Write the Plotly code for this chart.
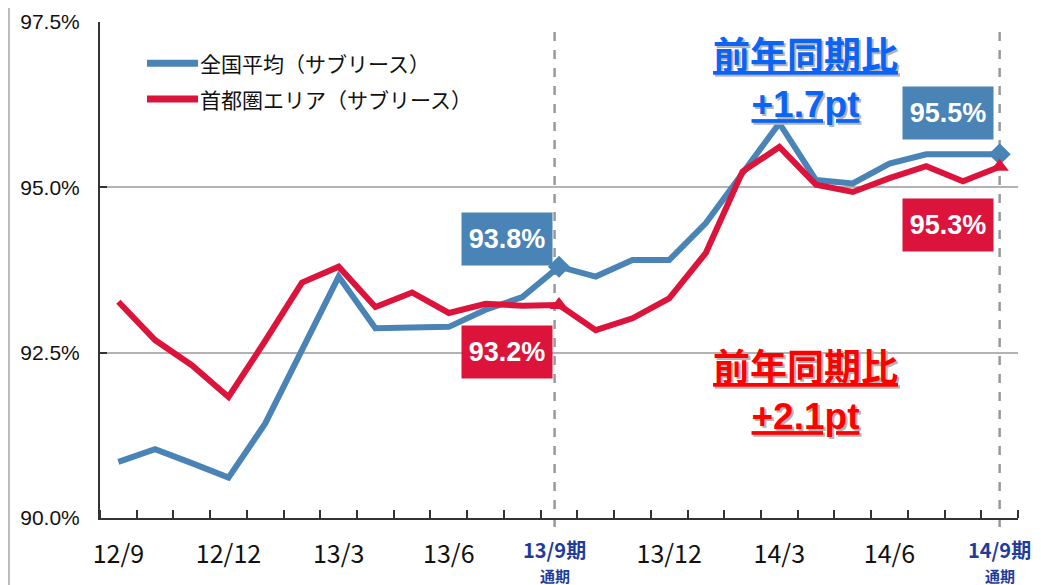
import plotly.graph_objects as go

# ---------------- data ----------------
months = ["12/9", "12/10", "12/11", "12/12", "13/1", "13/2", "13/3", "13/4", "13/5",
          "13/6", "13/7", "13/8", "13/9", "13/10", "13/11", "13/12", "14/1", "14/2",
          "14/3", "14/4", "14/5", "14/6", "14/7", "14/8", "14/9"]
national = [90.85, 91.04, 90.83, 90.61, 91.43, 92.54, 93.65, 92.87, 92.89, 92.89,
            93.15, 93.34, 93.80, 93.65, 93.90, 93.90, 94.46, 95.22, 95.97, 95.11,
            95.06, 95.36, 95.50, 95.50, 95.50]
capital = [93.27, 92.69, 92.31, 91.83, 92.68, 93.56, 93.80, 93.19, 93.41, 93.10,
           93.24, 93.21, 93.22, 92.84, 93.02, 93.32, 94.01, 95.24, 95.61, 95.04,
           94.93, 95.14, 95.32, 95.09, 95.31]
series_names = ["全国平均（サブリース）", "首都圏エリア（サブリース）"]
tick_months = ["12/9", "12/12", "13/3", "13/6", "13/9", "13/12", "14/3", "14/6", "14/9"]
period_ends = ["13/9", "14/9"]
period_suffix = "期"
period_note = "通期"
y_ticks = [90.0, 92.5, 95.0, 97.5]
yoy_label = "前年同期比"
yoy_national = "+1.7pt"
yoy_capital = "+2.1pt"

BLUE = "#4a83b5"
RED = "#dc143c"
TICK_BLUE = "#1f3c9c"

x = list(range(len(months)))
end_idx = [months.index(p) for p in period_ends]
dash_nudge = [-0.12, 0.0]   # small horizontal nudge of the period divider lines (style)

fig = go.Figure()
fig.add_trace(go.Scatter(x=x, y=national, mode="lines", name=series_names[0],
                         line=dict(color=BLUE, width=6), showlegend=False, hoverinfo="skip"))
fig.add_trace(go.Scatter(x=x, y=capital, mode="lines", name=series_names[1],
                         line=dict(color=RED, width=6), showlegend=False, hoverinfo="skip"))
fig.add_trace(go.Scatter(x=end_idx, y=[national[i] for i in end_idx], mode="markers",
                         marker=dict(symbol="diamond", size=17, color=BLUE, opacity=1,
                                     line=dict(width=0)),
                         showlegend=False, hoverinfo="skip"))
fig.add_trace(go.Scatter(x=end_idx, y=[capital[i] for i in end_idx], mode="markers",
                         marker=dict(symbol="triangle-up", size=16, color=RED, opacity=1,
                                     line=dict(width=0)),
                         showlegend=False, hoverinfo="skip"))

# tick labels (period-end labels are drawn as two-line annotations below)
ticktext = ["" if m in period_ends else m for m in tick_months]

shapes = []
annotations = []
for m, i, dn in zip(period_ends, end_idx, dash_nudge):
    shapes.append(dict(type="line", xref="x", yref="paper", x0=i + dn, x1=i + dn,
                       y0=-0.018, y1=0.988,
                       line=dict(color="#999999", width=2.5, dash="dash"), layer="below"))
    annotations.append(dict(x=i + dn, y=-0.0625, xref="x", yref="paper",
                            text=f"<b>{m}{period_suffix}</b>", showarrow=False,
                            xanchor="center", yanchor="middle",
                            font=dict(family="Noto Sans CJK JP", size=20, color=TICK_BLUE)))
    annotations.append(dict(x=i + dn, y=-0.115, xref="x", yref="paper",
                            text=f"<b>{period_note}</b>", showarrow=False,
                            xanchor="center", yanchor="middle",
                            font=dict(family="Noto Sans CJK JP", size=15, color=TICK_BLUE)))
# slide frame line at left
shapes.append(dict(type="line", xref="paper", yref="paper", x0=-0.0991, x1=-0.0991,
                   y0=-0.2, y1=1.1, line=dict(color="#bbbbbb", width=2)))

# manual legend
leg_y = [0.917, 0.845]
for name, col, yy in zip(series_names, [BLUE, RED], leg_y):
    shapes.append(dict(type="line", xref="paper", yref="paper", x0=0.0512, x1=0.1068,
                       y0=yy, y1=yy, line=dict(color=col, width=7)))
    annotations.append(dict(xref="paper", yref="paper", x=0.107, y=yy, text=name,
                            showarrow=False, xanchor="left", yanchor="middle",
                            font=dict(family="Noto Sans CJK JP", size=21, color="#111")))


def value_box(series, idx, color, above, yshift):
    v = series[idx]
    annotations.append(dict(x=idx, y=v, xref="x", yref="y", text=f"<b>{v:.1f}%</b>",
                            showarrow=False, xanchor="right",
                            yanchor="bottom" if above else "top",
                            xshift=-6, yshift=yshift, bgcolor=color, width=82, height=44,
                            borderpad=4, align="center",
                            font=dict(family="Liberation Sans", size=27, color="white")))


value_box(national, end_idx[0], BLUE, True, 1)
value_box(capital, end_idx[0], RED, False, -20)
value_box(national, end_idx[1], BLUE, True, 14)
value_box(capital, end_idx[1], RED, False, -31)


def yoy(text, color, ypaper):
    t = f"<b><u>{yoy_label}</u><br><u>{text}</u></b>"
    for col, dx, dy in [("#b5b5b5", 2, -2), (color, 0, 0)]:
        annotations.append(dict(xref="paper", yref="paper", x=0.768, y=ypaper, text=t,
                                showarrow=False, xanchor="center", yanchor="middle",
                                xshift=dx, yshift=dy, align="center",
                                font=dict(family="Liberation Sans, Noto Sans CJK JP",
                                          size=37, color=col)))


yoy(yoy_national, "#0a64f5", 0.883)
yoy(yoy_capital, "#ff0000", 0.254)

# the page places the figure 8px in from the top-left corner; margins compensate
fig.update_layout(
    width=1041, height=585,
    margin=dict(l=92, r=31, t=14, b=75),
    paper_bgcolor="white", plot_bgcolor="white",
    showlegend=False,
    shapes=shapes, annotations=annotations,
    xaxis=dict(range=[-0.5, len(months) - 0.5], automargin=False,
               tickmode="array", tickvals=[months.index(m) for m in tick_months],
               ticktext=ticktext, ticks="", showline=True, linecolor="#333333", linewidth=2,
               showgrid=False, zeroline=False,
               minor=dict(ticks="inside", tick0=0.5, dtick=1, ticklen=8,
                          tickcolor="#333333", tickwidth=1.5, showgrid=False),
               tickfont=dict(family="Noto Sans CJK JP", size=25, color="#111111"),
               ticklabelstandoff=13),
    yaxis=dict(range=[y_ticks[0], y_ticks[-1]], tickmode="array", tickvals=y_ticks,
               automargin=False,
               ticktext=[f"{v:.1f}%" for v in y_ticks], ticks="inside", ticklen=7,
               tickcolor="#333333", tickwidth=1.5,
               showline=True, linecolor="#333333", linewidth=2,
               showgrid=True, gridcolor="#b3b3b3", gridwidth=1.5, zeroline=False,
               tickfont=dict(family="Liberation Sans", size=21, color="#111111"),
               ticklabelstandoff=14),
)

fig.write_html("out.html")
